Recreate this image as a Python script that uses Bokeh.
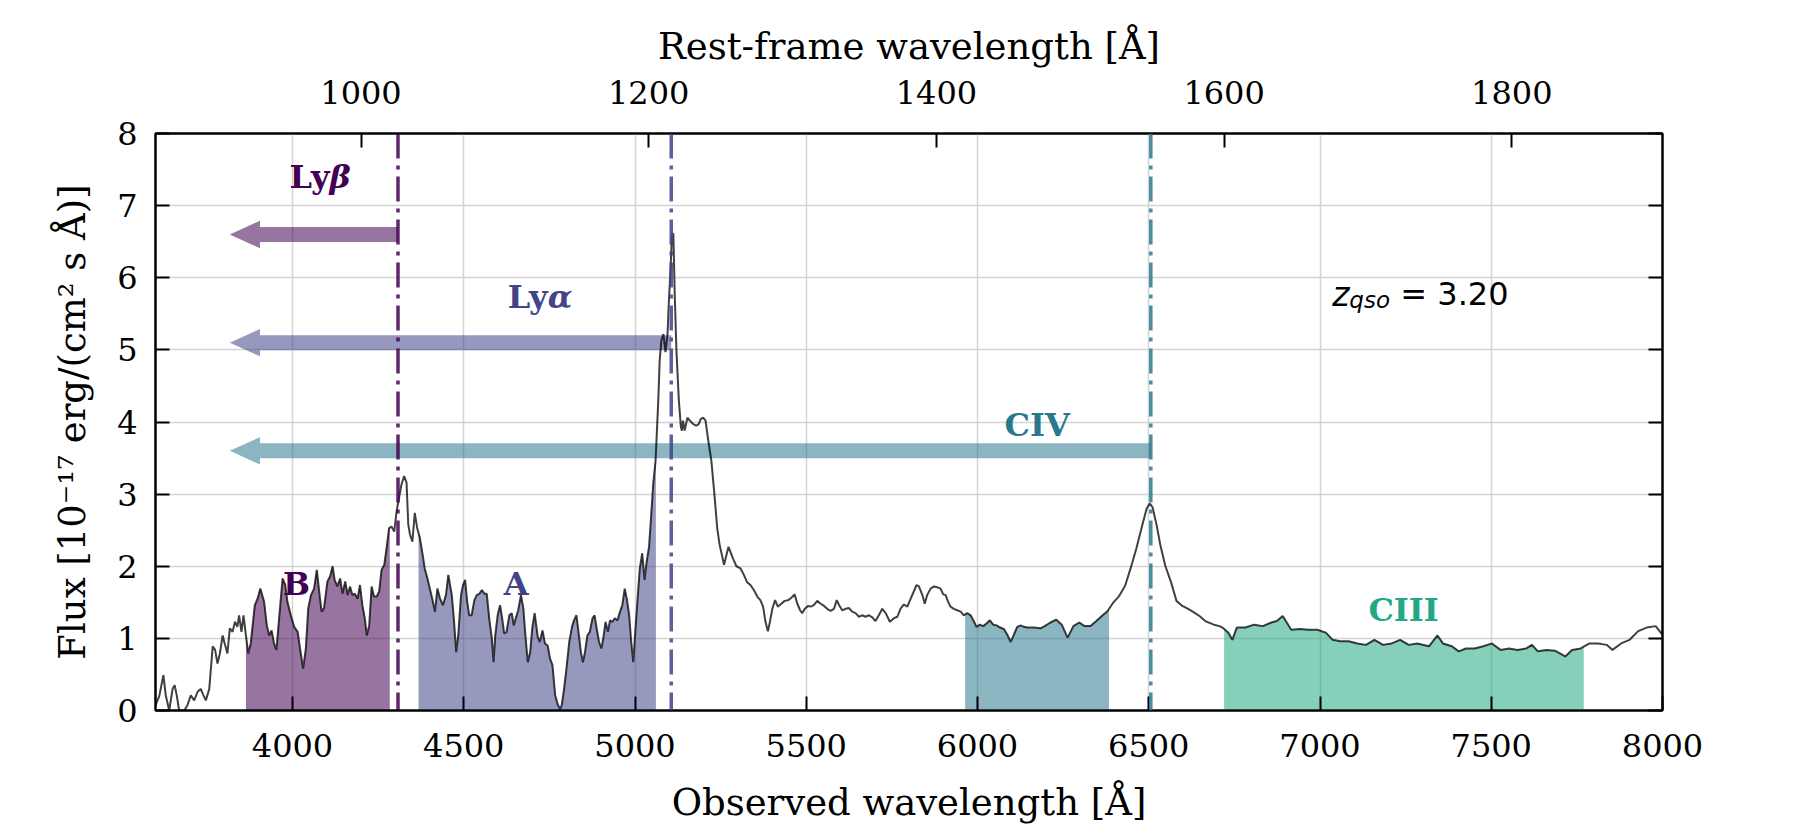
import numpy as np
from bokeh.plotting import figure
from bokeh.models import Range1d, LinearAxis, FixedTicker, Span, Label
from bokeh.embed import file_html
from bokeh.resources import INLINE
from bokeh.core.properties import value

# ---------------- data ----------------
z_qso = 3.20

wave = [3598, 3611, 3623, 3630, 3640, 3650, 3656, 3662, 3669, 3684, 3693, 3703, 3713, 3723, 3732, 3740,
        3747, 3757, 3767, 3774, 3781, 3788, 3796, 3802, 3810, 3817, 3825, 3832, 3839, 3844, 3851, 3857,
        3864, 3871, 3878, 3890, 3898, 3906, 3917, 3925, 3932, 3939, 3946, 3953, 3961, 3971, 3979, 3985,
        3995, 4005, 4015, 4022, 4031, 4039, 4046, 4054, 4063, 4071, 4078, 4085, 4092, 4102, 4110, 4117,
        4123, 4131, 4139, 4146, 4154, 4161, 4168, 4175, 4182, 4190, 4197, 4204, 4211, 4217, 4224, 4231,
        4238, 4246, 4253, 4260, 4268, 4276, 4282, 4289, 4297, 4304, 4311, 4318, 4326, 4333, 4338, 4343,
        4350, 4357, 4364, 4372, 4380, 4386, 4394, 4401, 4408, 4416, 4423, 4431, 4439, 4448, 4455,
        4465, 4471, 4478, 4484, 4492, 4498, 4504, 4510, 4516, 4523, 4531, 4538, 4546, 4553, 4560, 4567,
        4575, 4582, 4587, 4592, 4599, 4606, 4612, 4618, 4625, 4633, 4640, 4646, 4652, 4659, 4667, 4674,
        4680, 4687, 4694, 4700, 4707, 4716, 4722, 4730, 4737, 4745, 4752, 4759, 4767, 4774, 4781, 4786,
        4793, 4801, 4808, 4816, 4822, 4829, 4835, 4842, 4848, 4854, 4861, 4868, 4876, 4882, 4888, 4895,
        4902, 4908, 4914, 4921, 4927, 4934, 4941, 4949, 4955, 4963, 4970, 4976, 4983, 4989, 4995, 5000,
        5007, 5014, 5021, 5028, 5034, 5041, 5048, 5053, 5060,
        5068, 5072, 5077, 5083, 5089, 5095, 5099, 5104, 5108, 5112, 5116, 5121, 5128, 5134, 5137, 5140,
        5145, 5153, 5160, 5170, 5179, 5186, 5192, 5199, 5206, 5214, 5223, 5232, 5240, 5247, 5260, 5273,
        5286, 5296,
        5308, 5318, 5327, 5337, 5347, 5357, 5366, 5374, 5381, 5388, 5394, 5401, 5409, 5417, 5427, 5437,
        5447, 5456, 5466, 5474, 5482, 5488, 5496, 5505, 5513, 5522, 5532, 5542, 5552, 5561, 5571, 5581,
        5589, 5596, 5605, 5615, 5625, 5634, 5644, 5654, 5663, 5673, 5683, 5693, 5702, 5712, 5722, 5732,
        5744, 5756, 5766, 5775, 5785, 5795, 5805, 5814, 5822, 5829, 5839, 5846, 5853, 5863, 5873, 5882,
        5892, 5900, 5907, 5914, 5921, 5931, 5941, 5951, 5960, 5970, 5980, 5990, 5997, 6007, 6017, 6027,
        6036, 6046, 6056, 6066, 6077, 6087, 6097, 6106, 6116, 6126, 6136, 6145, 6165, 6184,
        6196, 6213, 6230, 6246, 6263, 6280, 6297, 6313, 6330, 6347, 6363, 6380, 6397, 6414, 6431, 6447,
        6464, 6481, 6494, 6503, 6511, 6523, 6534, 6548, 6565, 6581, 6598, 6615, 6632, 6648, 6665, 6690,
        6707, 6715, 6732, 6744, 6757, 6782, 6808, 6833, 6858, 6874, 6891, 6903, 6916, 6941, 6966, 6992,
        7017, 7037, 7059, 7084, 7109, 7134, 7159, 7184, 7209, 7234, 7259, 7284, 7318, 7343, 7359, 7385,
        7405, 7426, 7451, 7477, 7502, 7527, 7552, 7577, 7602, 7619, 7636, 7661, 7686, 7716, 7736, 7761,
        7787, 7812, 7837, 7854, 7879, 7904, 7929, 7954, 7980, 8000]

flux = [0.05, 0.20, 0.49, 0.21, 0.00, 0.30, 0.35, 0.21, 0.00, 0.00, 0.07, 0.21, 0.14, 0.26, 0.30, 0.21,
        0.14, 0.30, 0.89, 0.84, 0.65, 0.79, 1.04, 0.93, 0.79, 1.14, 1.09, 1.23, 1.16, 1.32, 1.09, 1.32,
        1.04, 0.79, 0.93, 1.46, 1.55, 1.69, 1.51, 1.18, 1.04, 1.11, 0.93, 0.84, 1.28, 1.83, 1.74, 1.51,
        1.32, 1.16, 1.09, 0.86, 0.58, 0.86, 1.42, 1.60, 1.69, 1.95, 1.65, 1.37, 1.42, 1.79, 1.86, 2.00,
        1.81, 1.72, 1.83, 1.62, 1.79, 1.60, 1.72, 1.60, 1.62, 1.55, 1.74, 1.46, 1.28, 1.04, 1.18, 1.72,
        1.58, 1.58, 1.65, 1.95, 2.02, 2.30, 2.53, 2.55, 2.48, 2.76, 2.95, 3.13, 3.25, 3.16, 2.58, 2.44,
        2.34, 2.74, 2.53, 2.39, 2.16, 1.97, 1.83, 1.69, 1.55, 1.37, 1.69, 1.55, 1.46, 1.60, 1.88,
        1.60, 1.28, 0.81, 1.04, 1.60, 1.74, 1.81, 1.51, 1.32, 1.32, 1.53, 1.60, 1.62, 1.67, 1.62, 1.62,
        1.25, 1.00, 0.67, 1.04, 1.32, 1.46, 1.28, 1.07, 1.09, 1.32, 1.35, 1.18, 1.28, 1.39, 1.60, 1.42,
        1.04, 0.67, 0.81, 1.14, 1.35, 1.02, 0.95, 1.11, 0.93, 0.90, 0.72, 0.63, 0.21, 0.09, 0.02, 0.07,
        0.30, 0.63, 0.95, 1.16, 1.25, 1.32, 1.09, 0.81, 0.67, 0.81, 1.04, 1.09, 1.28, 1.32, 1.14, 0.95,
        0.86, 1.02, 1.23, 1.09, 1.25, 1.23, 1.28, 1.25, 1.35, 1.46, 1.69, 1.55, 1.32, 0.95, 0.67, 1.04,
        1.51, 1.97, 2.18, 1.81, 2.06, 2.27, 2.76, 3.13, 3.46,
        4.30, 4.85, 5.13, 5.22, 4.97, 5.22, 5.68, 6.14, 6.61, 6.61, 5.77, 4.99, 4.30, 3.93, 3.88, 4.02,
        3.88, 4.06, 4.02, 3.97, 3.95, 3.97, 4.04, 4.06, 4.02, 3.74, 3.46, 2.99, 2.53, 2.30, 2.02, 2.27,
        2.11, 2.00,
        1.97, 1.88, 1.78, 1.74, 1.67, 1.58, 1.53, 1.44, 1.23, 1.10, 1.23, 1.41, 1.53, 1.44, 1.48, 1.52,
        1.53, 1.56, 1.61, 1.48, 1.39, 1.35, 1.41, 1.45, 1.44, 1.46, 1.52, 1.48, 1.45, 1.41, 1.38, 1.41,
        1.53, 1.46, 1.39, 1.41, 1.42, 1.37, 1.35, 1.30, 1.32, 1.30, 1.32, 1.29, 1.24, 1.32, 1.41, 1.35,
        1.23, 1.28, 1.30, 1.41, 1.47, 1.44, 1.55, 1.65, 1.74, 1.72, 1.60, 1.48, 1.60, 1.69, 1.72, 1.71,
        1.69, 1.61, 1.60, 1.51, 1.44, 1.41, 1.39, 1.37, 1.32, 1.35, 1.32, 1.23, 1.16, 1.19, 1.17, 1.21,
        1.25, 1.19, 1.18, 1.15, 1.13, 1.05, 0.95, 1.05, 1.16, 1.18, 1.16, 1.15, 1.15, 1.14,
        1.17, 1.22, 1.26, 1.19, 1.01, 1.17, 1.22, 1.17, 1.17, 1.24, 1.31, 1.38, 1.50, 1.59, 1.73, 1.97,
        2.25, 2.57, 2.80, 2.87, 2.82, 2.57, 2.29, 2.01, 1.78, 1.52, 1.45, 1.41, 1.36, 1.31, 1.24, 1.19,
        1.17, 1.15, 1.08, 0.98, 1.15, 1.15, 1.19, 1.17, 1.22, 1.24, 1.31, 1.22, 1.12, 1.13, 1.12, 1.12,
        1.08, 0.98, 0.96, 0.96, 0.93, 0.91, 0.98, 0.91, 0.93, 0.98, 0.91, 0.93, 0.89, 1.04, 0.93, 0.89,
        0.82, 0.86, 0.86, 0.89, 0.93, 0.84, 0.86, 0.84, 0.86, 0.91, 0.82, 0.84, 0.83, 0.75, 0.84, 0.86,
        0.93, 0.93, 0.91, 0.84, 0.93, 0.98, 1.10, 1.15, 1.17, 1.05]

# emission lines (rest frame, Angstrom)
line_names = ["Lyβ", "Lyα", "CIV"]
line_rest = [1025.72, 1215.67, 1549.06]
line_colors = ["#440154", "#414487", "#2a788e"]
arrow_y = [6.6, 5.1, 3.6]
arrow_tip_obs = 3817

# shaded regions (rest frame, Angstrom)
region_lo = [920, 1040, 1420, 1600]
region_hi = [1020, 1205, 1520, 1850]
region_colors = ["#440154", "#414487", "#2a788e", "#22a884"]

# line labels ("Ly" + greek letter) and plain labels
ly_greek = ["β", "α"]
ly_x = [4073, 4710]
ly_y = [7.39, 5.74]
ly_colors = ["#440154", "#414487"]

label_text = ["CIV", "B", "A", "CIII"]
label_x = [6174, 4012, 4653, 7244]
label_y = [3.96, 1.76, 1.76, 1.40]
label_colors = ["#2a788e", "#440154", "#414487", "#22a884"]

obs_ticks = [4000, 4500, 5000, 5500, 6000, 6500, 7000, 7500, 8000]
rest_ticks = [1000, 1200, 1400, 1600, 1800]
flux_ticks = [0, 1, 2, 3, 4, 5, 6, 7, 8]
x_lim = [3600, 8000]
y_lim = [0, 8]
z_label_pos = [7036, 5.77]

# ---------------- figure ----------------
SERIF = "DejaVu Serif"
SANS = "DejaVu Sans"
p = figure(width=1784, height=831, x_range=Range1d(*x_lim), y_range=Range1d(*y_lim),
           output_backend="svg", toolbar_location=None,
           min_border_left=155, min_border_right=122, min_border_top=133, min_border_bottom=121)
p.background_fill_color = "white"
p.border_fill_color = "white"
p.outline_line_color = "black"
p.outline_line_width = 2

p.extra_x_ranges = {"rest": Range1d(x_lim[0] / (1 + z_qso), x_lim[1] / (1 + z_qso))}

bottom = p.below[0]
left = p.left[0]
bottom.ticker = FixedTicker(ticks=obs_ticks)
left.ticker = FixedTicker(ticks=flux_ticks)
bottom.axis_label = "Observed wavelength [Å]"
left.axis_label = "Flux [10⁻¹⁷ erg/(cm² s Å)]"

top = LinearAxis(x_range_name="rest", ticker=FixedTicker(ticks=rest_ticks),
                 axis_label="Rest-frame wavelength [Å]")
p.add_layout(top, "above")
right = LinearAxis(ticker=FixedTicker(ticks=flux_ticks))
p.add_layout(right, "right")

for ax in [bottom, left, top, right]:
    ax.major_tick_in = 14
    ax.major_tick_out = 0
    ax.minor_tick_in = 0
    ax.minor_tick_out = 0
    ax.major_tick_line_width = 2
    ax.major_tick_line_color = "black"
    ax.axis_line_width = 2
    ax.axis_line_color = "black"
    ax.major_label_text_font = SERIF
    ax.major_label_text_font_size = "32px"
    ax.major_label_text_color = "black"
    ax.axis_label_text_font = SERIF
    ax.axis_label_text_font_size = "37px"
    ax.axis_label_text_font_style = "normal"
    ax.axis_label_text_color = "black"

bottom.major_label_standoff = 23
bottom.axis_label_standoff = 21
top.major_label_standoff = 30
top.axis_label_standoff = 10
left.major_label_standoff = 18
left.axis_label_standoff = 20
right.major_label_text_color = None

p.xgrid.ticker = FixedTicker(ticks=obs_ticks)
p.grid.grid_line_color = "#cfcfcf"
p.grid.grid_line_width = 1.5
p.grid.grid_line_alpha = 0.9

wave_a = np.array(wave, dtype=float)
flux_a = np.array(flux, dtype=float)

# shaded regions
for lo, hi, c in zip(region_lo, region_hi, region_colors):
    a, b = lo * (1 + z_qso), hi * (1 + z_qso)
    inside = wave_a[(wave_a > a) & (wave_a < b)]
    xs = np.concatenate([[a], inside, [b]])
    ys = np.interp(xs, wave_a, flux_a)
    p.varea(x=xs, y1=np.zeros_like(xs), y2=ys, fill_color=c, fill_alpha=0.55)

# arrows
shaft_half = 0.104   # flux units
head_half = 0.19
head_len = 88        # Angstrom
for lr, c, ay in zip(line_rest, line_colors, arrow_y):
    xs0 = lr * (1 + z_qso)
    xb = arrow_tip_obs + head_len
    px = [xs0, xb, xb, arrow_tip_obs, xb, xb, xs0]
    py = [ay + shaft_half, ay + shaft_half, ay + head_half, ay, ay - head_half, ay - shaft_half, ay - shaft_half]
    p.patch(px, py, fill_color=c, fill_alpha=0.55, line_color=None)

# spectrum
p.line(wave_a, flux_a, line_color="black", line_alpha=0.75, line_width=2)

# vertical lines
for lr, c in zip(line_rest, line_colors):
    p.add_layout(Span(location=lr * (1 + z_qso), dimension="height", line_color=c,
                      line_width=3.5, line_alpha=0.85, line_dash="25 7 4 7"))

# labels
p.text(x=ly_x, y=ly_y, text=["Ly"] * len(ly_x), text_color=ly_colors,
       text_font=value(SERIF), text_font_style="bold", text_font_size="32px",
       text_align="right", text_baseline="alphabetic", x_offset=12)
p.text(x=ly_x, y=ly_y, text=ly_greek, text_color=ly_colors,
       text_font=value(SERIF), text_font_style="bold italic", text_font_size="32px",
       text_align="left", text_baseline="alphabetic", x_offset=12)
p.text(x=label_x, y=label_y, text=label_text, text_color=label_colors,
       text_font=value(SERIF), text_font_style="bold", text_font_size="32px",
       text_align="center", text_baseline="alphabetic")

p.add_layout(Label(x=z_label_pos[0], y=z_label_pos[1], text="z", text_font=SANS, text_color="black",
                   text_font_style="italic", text_font_size="33px", text_baseline="alphabetic",
                   text_align="left"))
p.add_layout(Label(x=z_label_pos[0], y=z_label_pos[1], text="qso", text_font=SANS, text_color="black",
                   text_font_style="italic", text_font_size="23px", text_baseline="alphabetic",
                   text_align="left", x_offset=17, y_offset=-6))
p.add_layout(Label(x=z_label_pos[0], y=z_label_pos[1], text="= 3.20", text_font=SANS, text_color="black",
                   text_font_size="32px", text_baseline="alphabetic", text_align="left",
                   x_offset=68))

open("out.html", "w").write(file_html(p, INLINE))
